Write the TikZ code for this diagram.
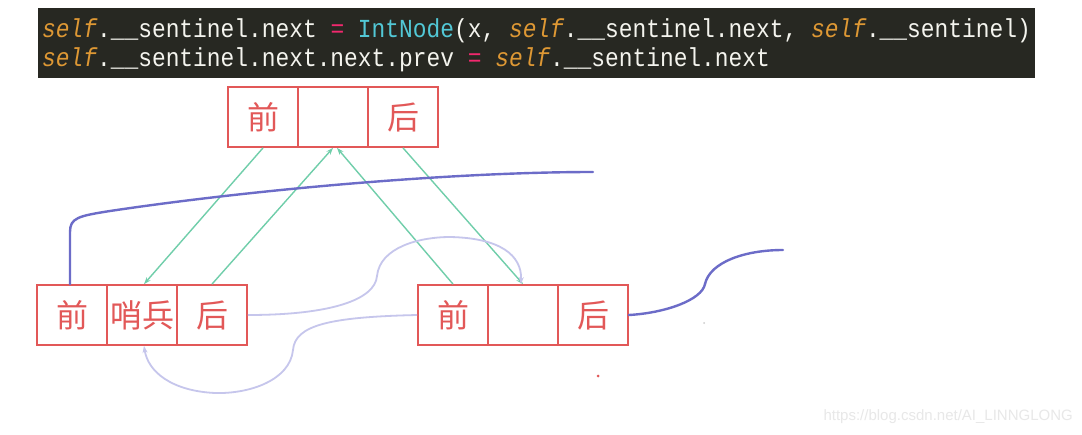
\documentclass[tikz,border=0pt]{standalone}
\usepackage{fontspec}
\usetikzlibrary{arrows.meta}
\newfontfamily\cjk{Noto Sans CJK SC}
\newfontfamily\codefont{Liberation Mono}
\newfontfamily\wmfont{Liberation Sans}
\definecolor{codebg}{HTML}{272822}
\definecolor{kwself}{RGB}{222,152,52}
\definecolor{codefg}{HTML}{F4F4EE}
\definecolor{eqpink}{HTML}{F2286E}
\definecolor{clscyan}{RGB}{82,200,214}
\definecolor{boxred}{RGB}{226,88,88}
\definecolor{linkgreen}{RGB}{112,206,170}
\definecolor{linkblue}{RGB}{108,108,200}
\definecolor{linklav}{RGB}{198,198,236}
\newcommand{\kself}{\textcolor{kwself}{\itshape self}}
\newcommand{\keq}{\textcolor{eqpink}{=}}
\begin{document}
\begin{tikzpicture}[x=1pt,y=-1pt,
  cell/.style={draw=boxred, line width=1.8pt, minimum width=70pt, minimum height=60pt,
    inner sep=0pt, text=boxred, font=\cjk\fontsize{32}{32}\selectfont},
  codeline/.style={anchor=base west, inner sep=0pt, text=codefg},
  greenlink/.style={draw=linkgreen, line width=1.4pt, -{Stealth[length=7pt,width=5pt]}},
  bluelink/.style={draw=linkblue, line width=2.4pt, line cap=round},
  lavlink/.style={draw=linklav, line width=1.8pt, -{Stealth[length=7pt,width=5pt]}}]
\useasboundingbox (0,0) rectangle (1082,434);
\fill[white] (0,0) rectangle (1082,434);
% code block
\fill[codebg] (38,8) rectangle (1035,78);
\node[codeline] (code1) at (42,37) {\scalebox{0.88}[1]{\codefont\fontsize{26}{26}\selectfont
  \kself.\_\_sentinel.next \keq{} \textcolor{clscyan}{IntNode}(x, \kself.\_\_sentinel.next, \kself.\_\_sentinel)}};
\node[codeline] (code2) at (42,66) {\scalebox{0.88}[1]{\codefont\fontsize{26}{26}\selectfont
  \kself.\_\_sentinel.next.next.prev \keq{} \kself.\_\_sentinel.next}};
% top node
\node[cell] (t1) at (263,117) {前};
\node[cell] (t2) at (333,117) {};
\node[cell] (t3) at (403,117) {后};
% left node (sentinel)
\node[cell] (l1) at (72,315) {前};
\node[cell] (l2) at (142,315) {哨兵};
\node[cell] (l3) at (212,315) {后};
% right node
\node[cell] (r1) at (453,315) {前};
\node[cell] (r2) at (523,315) {};
\node[cell] (r3) at (593,315) {后};
% green links
\draw[greenlink] (t1.south) -- ([xshift=2pt]l2.north);
\draw[greenlink] (l3.north) -- (t2.south);
\draw[greenlink] (r1.north) -- ([xshift=4pt]t2.south);
\draw[greenlink] (t3.south) -- (r2.north);
% blue strokes
\coordinate (bend1) at (593,172);
\coordinate (bend2) at (783,250);
\draw[bluelink] ([xshift=-2pt]l1.north) -- (70,232) .. controls (70,218) and (78,216) .. (110,211)
   .. controls (250,190) and (450,172) .. (bend1);
\draw[bluelink] (r3.east) .. controls (665,313) and (702,300) .. (705,284)
   .. controls (710,262) and (745,250) .. (bend2);
% lavender links
\draw[lavlink] (l3.east) .. controls (330,315) and (375,300) .. (377,276)
   .. controls (380,247) and (420,237) .. (450,237)
   .. controls (500,238) and (522,255) .. ([xshift=-2pt]r2.north);
\draw[lavlink] (r1.west) .. controls (330,317) and (295,325) .. (293,350)
   .. controls (290,380) and (250,394) .. (215,393)
   .. controls (172,391) and (148,372) .. ([xshift=2pt]l2.south);
% specks
\fill[boxred] (598,376) circle (1.5pt);
\fill[gray!40] (704,323) circle (1pt);
% watermark
\node[anchor=base east, inner sep=0pt, text=gray!18, font=\wmfont\fontsize{15}{15}\selectfont] (wm) at (1073,420) {https://blog.csdn.net/AI\_LINNGLONG};
\end{tikzpicture}
\end{document}
